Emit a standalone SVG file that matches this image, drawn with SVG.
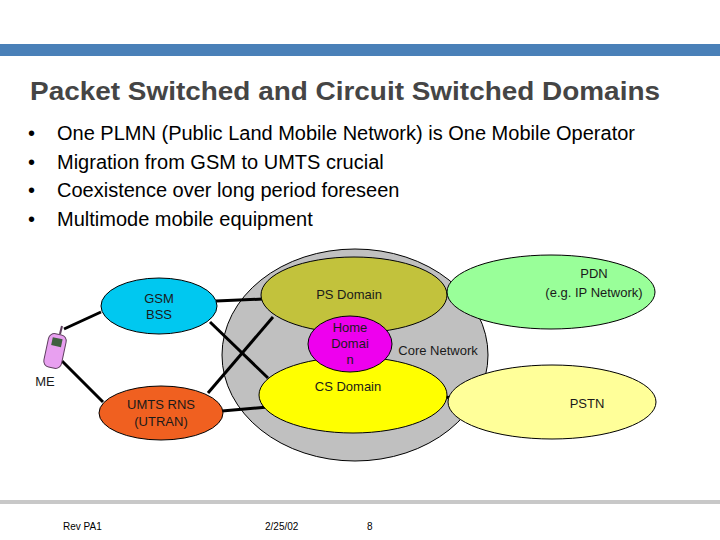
<svg xmlns="http://www.w3.org/2000/svg" width="720" height="540" viewBox="0 0 720 540">
<style>
text{font-family:"Liberation Sans",Arial,sans-serif}
.t{font-size:26px;font-weight:bold;fill:#454545}
.b{font-size:20px;fill:#000}
.n{font-size:13px;fill:#1a1a1a;text-anchor:middle}
.e{stroke:#000;stroke-width:1}
.c line{stroke:#000;stroke-width:3}
.f{font-size:10px;fill:#000}
</style>
<rect width="720" height="540" fill="#fff"/>
<rect x="0" y="44" width="720" height="12" fill="#4a80b8"/>
<text class="t" x="30" y="100" textLength="630" lengthAdjust="spacingAndGlyphs">Packet Switched and Circuit Switched Domains</text>
<g>
<text class="b" x="28" y="140">•</text><text class="b" x="57" y="140" textLength="578" lengthAdjust="spacingAndGlyphs">One PLMN (Public Land Mobile Network) is One Mobile Operator</text>
<text class="b" x="28" y="169">•</text><text class="b" x="57" y="169">Migration from GSM to UMTS crucial</text>
<text class="b" x="28" y="197">•</text><text class="b" x="57" y="197">Coexistence over long period foreseen</text>
<text class="b" x="28" y="226">•</text><text class="b" x="57" y="226">Multimode mobile equipment</text>
</g>
<g id="core"><ellipse class="e" cx="355" cy="355" rx="133" ry="106" fill="#c0c0c0"/>
<text class="n" x="438" y="355">Core Network</text></g>
<g class="c" id="connectors">
<line x1="64" y1="329" x2="101" y2="312"/>
<line x1="62" y1="361" x2="103" y2="402"/>
<line x1="216" y1="301" x2="263" y2="299"/>
<line x1="210" y1="322" x2="268" y2="378"/>
<line x1="208" y1="393" x2="273" y2="317"/>
<line x1="222" y1="411" x2="268" y2="407"/>
<line x1="447" y1="294" x2="508" y2="288"/>
<line x1="446" y1="397" x2="512" y2="410"/>
</g>
<g id="ps"><ellipse class="e" cx="354" cy="295" rx="93" ry="38" fill="#c2c23c"/><text class="n" x="349" y="299">PS Domain</text></g>
<g id="cs"><ellipse class="e" cx="353" cy="395" rx="94" ry="38" fill="#ffff00"/><text class="n" x="348" y="391">CS Domain</text></g>
<g id="home"><ellipse class="e" cx="350" cy="344" rx="42" ry="28" fill="#ee00ee"/>
<text class="n" x="350" y="332" fill="#303090">Home</text><text class="n" x="350" y="348">Domai</text><text class="n" x="350" y="364">n</text></g>
<g id="gsm"><ellipse class="e" cx="159" cy="306" rx="58" ry="28" fill="#00c8f0"/><text class="n" x="159" y="303">GSM</text><text class="n" x="159" y="319">BSS</text></g>
<g id="umts"><ellipse class="e" cx="161" cy="413" rx="62" ry="27" fill="#f06020"/><text class="n" x="161" y="409">UMTS RNS</text><text class="n" x="161" y="426">(UTRAN)</text></g>
<g id="pdn"><ellipse class="e" cx="551" cy="292" rx="104" ry="37" fill="#99ff99"/><text class="n" x="594" y="278">PDN</text><text class="n" x="594" y="297">(e.g. IP Network)</text></g>
<g id="pstn"><ellipse class="e" cx="552" cy="402" rx="104" ry="37" fill="#ffff99"/><text class="n" x="587" y="408">PSTN</text></g>
<g id="me">
<rect x="46" y="334" width="18" height="34" rx="6" fill="#e8a0f0" stroke="#604060" stroke-width="1" transform="rotate(12 55 351)"/>
<rect x="50" y="338" width="10" height="8" fill="#406040" transform="rotate(12 55 351)"/>
<line x1="60" y1="334" x2="62" y2="326" stroke="#604060" stroke-width="2"/>
<text class="n" x="45" y="386">ME</text></g>
<rect x="0" y="500" width="720" height="4" fill="#c8c8c8"/>
<text class="f" x="63" y="530">Rev PA1</text>
<text class="f" x="265" y="530">2/25/02</text>
<text class="f" x="367" y="530">8</text>
</svg>
